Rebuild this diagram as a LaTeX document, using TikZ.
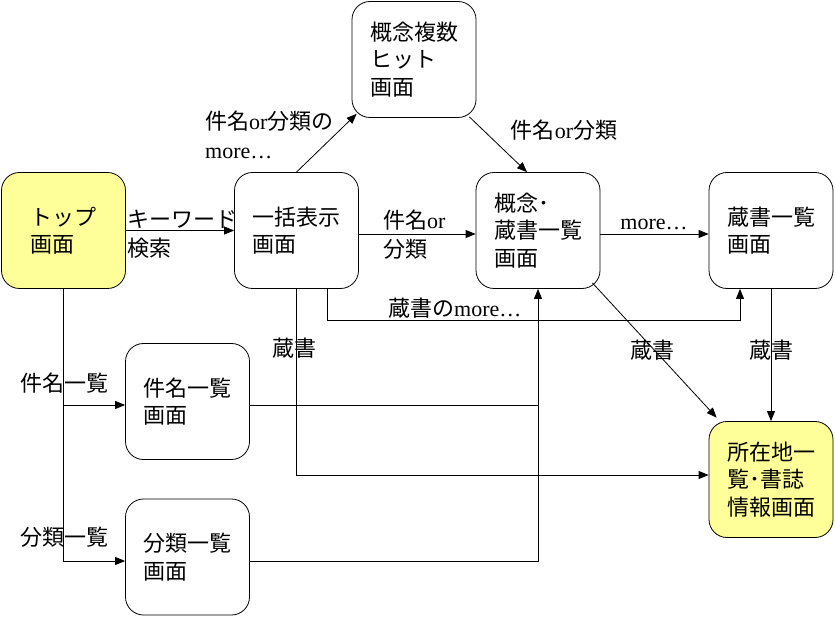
\documentclass[tikz,border=0pt]{standalone}
\usepackage{fontspec}
\setmainfont{Liberation Serif}
\newfontfamily\jp{Noto Sans CJK JP}
\newfontfamily\lat{Liberation Serif}
\usepackage{tikz}
\usetikzlibrary{arrows.meta,calc}
\definecolor{topyellow}{HTML}{FFFF99}
\tikzset{
  screen/.style={draw, rounded corners=18pt, minimum width=124pt, minimum height=116pt,
    align=left, line width=0.8pt, font=\jp\fontsize{22}{27.5}\selectfont},
  startscreen/.style={screen, fill=topyellow},
  lbl/.style={inner sep=0pt, align=left, font=\jp\fontsize{22}{29}\selectfont},
  arr/.style={-{Triangle[length=10pt,width=8pt]}, line width=0.8pt},
  link/.style={line width=0.8pt}
}

\begin{document}
\begin{tikzpicture}[x=1pt,y=-1pt]
\useasboundingbox (0,0) rectangle (835,617);
% screens
\node[startscreen] (top) at (63.5,230.5) {トップ\\画面};
\node[screen] (ikkatsu) at (296.5,230.5) {一括表示\\画面};
\node[screen] (hit) at (414,59.5) {概念複数\\ヒット\\画面};
\node[screen] (gainen) at (538,230.5) {概念･\\蔵書一覧\\画面};
\node[screen] (zousho) at (771,230.5) {蔵書一覧\\画面};
\node[screen] (kenmei) at (187.5,401.5) {件名一覧\\画面};
\node[screen] (bunrui) at (187.5,557) {分類一覧\\画面};
\node[startscreen] (shozai) at (771,479.5) {所在地一\\覧･書誌\\情報画面};

% connectors
\draw[arr] (top.east) -- (ikkatsu.west);
\draw[arr] (ikkatsu.north) -- ($(hit.south west)+(5,-4)$);
\draw[arr] ($(hit.south east)+(-7,-1)$) -- ($(gainen.north)+(-11,0)$);
\draw[arr] ([yshift=-3.5pt]ikkatsu.east) -- ([yshift=-3.5pt]gainen.west);
\draw[arr] ([yshift=-3.5pt]gainen.east) -- ([yshift=-3.5pt]zousho.west);
\draw[arr] ([xshift=30.5pt]ikkatsu.south) -- ++(0,32) -| ([xshift=-31pt]zousho.south);
\draw[arr] (ikkatsu.south) |- ([yshift=4.5pt]shozai.west);
\draw[arr] ($(gainen.south east)+(-8,-6)$) -- ($(shozai.north west)+(8,-3.5)$);
\draw[arr] (zousho.south) -- (shozai.north);
\draw[arr] (top.south) |- ([yshift=-3.5pt]kenmei.west);
\draw[arr] (top.south) |- ([yshift=-4pt]bunrui.west);
\coordinate (kj) at ($(kenmei.east)+(0,3.5)$);
\draw[link] (kj) -- (kj -| gainen.south);
\draw[arr] ([yshift=-4pt]bunrui.east) -| (gainen.south);

% labels
\node[lbl, anchor=west] (kw) at (127,234.5) {キーワード\\検索};
\node[lbl, anchor=west] (kb) at (205,135) {件名{\lat or}分類の\\{\lat more…}};
\node[lbl] (kb2) at (564,130) {件名{\lat or}分類};
\node[lbl, anchor=west] (kb3) at (383,235) {件名{\lat or}\\分類};
\node[lbl, anchor=base] (more) at (654,230) {\lat more…};
\node[lbl, anchor=west] (zm) at (388,308) {蔵書の{\lat more…}};
\node[lbl] (z1) at (294,348) {蔵書};
\node[lbl] (z2) at (652,350) {蔵書};
\node[lbl] (z3) at (771,350) {蔵書};
\node[lbl] (ki) at (64,383) {件名一覧};
\node[lbl] (bi) at (64,537) {分類一覧};
\end{tikzpicture}
\end{document}
